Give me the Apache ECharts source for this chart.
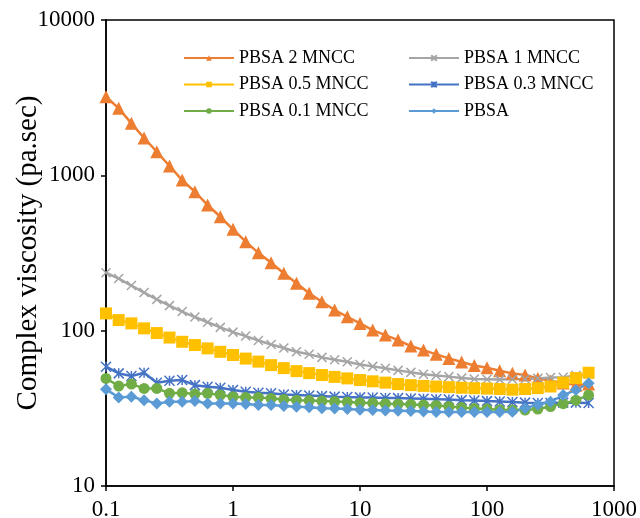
<!DOCTYPE html>
<html>
<head>
<meta charset="utf-8">
<script src="https://cdn.jsdelivr.net/npm/echarts@6/dist/echarts.min.js"></script>
<style>
  html, body { margin: 0; padding: 0; background: #ffffff; }
  #chart { width: 640px; height: 518px; }
</style>
</head>
<body>
<div id="chart"></div>
<script>
// Angular frequency (rad/s), 10 points per decade
const freq = [0.1, 0.1259, 0.1585, 0.1995, 0.2512, 0.3162, 0.3981, 0.5012, 0.631, 0.7943,
  1, 1.259, 1.585, 1.995, 2.512, 3.162, 3.981, 5.012, 6.31, 7.943,
  10, 12.59, 15.85, 19.95, 25.12, 31.62, 39.81, 50.12, 63.1, 79.43,
  100, 125.9, 158.5, 199.5, 251.2, 316.2, 398.1, 501.2, 631];

// Complex viscosity (Pa.s) for each formulation
const pbsa2 = [3207, 2700, 2162, 1739, 1419, 1148, 932, 784, 644, 541,
  449, 374, 317, 274, 234, 202, 174, 153.5, 135.7, 122.9,
  111.4, 100.9, 93.7, 87, 79.6, 75, 70.4, 66.3, 62.8, 59.6,
  57.7, 55.2, 53.1, 51.8, 49.3, 47.4, 46, 44.6, 45.3];
const pbsa1 = [236, 216.5, 195.2, 176, 159, 145, 132.7, 122.4, 113.3, 105,
  97.9, 92.3, 86.4, 81.4, 77.3, 73.1, 70.4, 67.3, 64.9, 63.1,
  60.5, 58.9, 57.3, 55.5, 53.9, 52.4, 51.4, 50.6, 49.5, 48.8,
  48.6, 48.4, 48.6, 48.8, 49.3, 49.9, 50.2, 51.4, 52.5];
const pbsa05 = [129.2, 117, 111.4, 103.5, 96.5, 90.3, 84.8, 80.8, 76.9, 73.1,
  69.7, 66.1, 63.2, 60, 57.4, 54.9, 53.3, 51.8, 50.4, 49.3,
  48.1, 47.2, 46.3, 45.3, 44.6, 44.1, 43.7, 43.3, 42.9, 42.6,
  42.4, 42.1, 41.7, 42.1, 42.7, 43.7, 46.3, 49.5, 53.6];
const pbsa03 = [58.6, 53.1, 51, 53.6, 46.2, 47.6, 48.1, 44.6, 43.5, 42.9,
  41.5, 40.4, 39.8, 39.5, 38.8, 38.5, 38.2, 37.9, 37.6, 37.4,
  37.2, 37.1, 36.9, 36.8, 36.6, 36.4, 36.2, 36, 35.7, 35.5,
  35.2, 35, 34.7, 34.4, 34.2, 34.2, 34.4, 34.4, 34.2];
const pbsa01 = [49.3, 44, 45.3, 42.5, 42.5, 39.5, 39.8, 39.1, 39.5, 38.5,
  37.5, 37.2, 37.2, 36.6, 36.1, 35.7, 35.5, 35.2, 35, 34.7,
  34.4, 34.2, 33.9, 33.7, 33.5, 33.2, 33, 32.5, 32, 31.5,
  31.3, 31, 30.8, 30.8, 31.3, 32.5, 33.9, 35.7, 38.5];
const pbsa = [41.9, 37.2, 37.5, 35.7, 34, 34.8, 34.8, 35.2, 34, 34,
  34, 33.7, 33.2, 33.2, 32.7, 32.4, 32.1, 31.7, 31.5, 31.3,
  31, 30.8, 30.6, 30.5, 30.4, 30.2, 30, 29.9, 29.9, 29.9,
  29.9, 29.9, 30.1, 31.7, 33.4, 34.8, 38.5, 41.5, 45.8];

const xTicks = [0.1, 1, 10, 100, 1000];
const yTicks = [10, 100, 1000, 10000];

const FONT = '"Liberation Serif", "Times New Roman", serif';
const pairs = arr => freq.map((f, i) => [f, arr[i]]);
const fmt = v => String(+Number(v).toPrecision(6));

const crossPath = 'path://M0,0L10,10M10,0L0,10';
const starPath = 'path://M0,0L10,10M10,0L0,10M5,0L5,10';

function makeSeries(name, arr, color, symbol, size, stroked) {
  return {
    name: name,
    type: 'line',
    data: pairs(arr),
    symbol: symbol,
    symbolSize: size,
    showAllSymbol: true,
    lineStyle: { color: color, width: 2.5 },
    itemStyle: stroked
      ? { color: color, borderColor: color, borderWidth: 1.5 }
      : { color: color, borderWidth: 0 },
    emphasis: { disabled: true }
  };
}

const legendCommon = {
  orient: 'vertical',
  padding: 0,
  itemWidth: 50,
  itemHeight: 7,
  itemGap: 6.5,
  textStyle: { fontFamily: FONT, fontSize: 18, color: '#000', lineHeight: 20 }
};

const chart = echarts.init(document.getElementById('chart'), null, { renderer: 'canvas' });
chart.setOption({
  animation: false,
  backgroundColor: '#ffffff',
  grid: {
    left: 106, right: 26, top: 20, bottom: 32,
    outerBoundsMode: 'none',
    containLabel: false,
    show: true, borderColor: '#000', borderWidth: 1.5, backgroundColor: 'transparent'
  },
  legend: [
    Object.assign({ left: 183, top: 48, data: ['PBSA 2 MNCC', 'PBSA 0.5 MNCC', 'PBSA 0.1 MNCC'] }, legendCommon),
    Object.assign({ left: 408, top: 48, data: ['PBSA 1 MNCC', 'PBSA 0.3 MNCC', 'PBSA'] }, legendCommon)
  ],
  xAxis: {
    type: 'log', logBase: 10, min: xTicks[0], max: xTicks[xTicks.length - 1],
    axisLine: { lineStyle: { color: '#000', width: 1.5 } },
    axisTick: { show: true, inside: false, length: 5, lineStyle: { color: '#000', width: 1.5 } },
    minorTick: { show: false },
    splitLine: { show: false },
    axisLabel: { fontFamily: FONT, fontSize: 23, color: '#000', margin: 12, formatter: fmt }
  },
  yAxis: {
    type: 'log', logBase: 10, min: yTicks[0], max: yTicks[yTicks.length - 1],
    name: 'Complex viscosity (pa.sec)',
    nameLocation: 'middle',
    nameGap: 63,
    nameMoveOverlap: false,
    nameTextStyle: { fontFamily: FONT, fontSize: 29, color: '#000' },
    axisLine: { lineStyle: { color: '#000', width: 1.5 } },
    axisTick: { show: true, inside: false, length: 5, lineStyle: { color: '#000', width: 1.5 } },
    minorTick: { show: false },
    splitLine: { show: false },
    axisLabel: { fontFamily: FONT, fontSize: 23, color: '#000', margin: 11, formatter: fmt }
  },
  series: [
    makeSeries('PBSA 2 MNCC', pbsa2, '#ED7D31', 'triangle', 13, false),
    makeSeries('PBSA 1 MNCC', pbsa1, '#A5A5A5', crossPath, 9, true),
    makeSeries('PBSA 0.5 MNCC', pbsa05, '#FFC000', 'rect', 12, false),
    makeSeries('PBSA 0.3 MNCC', pbsa03, '#4472C4', starPath, 10, true),
    makeSeries('PBSA 0.1 MNCC', pbsa01, '#70AD47', 'circle', 11, false),
    makeSeries('PBSA', pbsa, '#5B9BD5', 'diamond', 12, false)
  ]
});
</script>
</body>
</html>
